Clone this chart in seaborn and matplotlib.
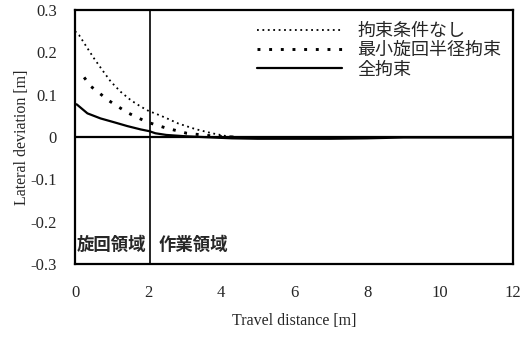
import matplotlib
matplotlib.use("Agg")
import matplotlib.pyplot as plt
import pandas as pd
import seaborn as sns

# series (x in m, y in m)
labels = ["拘束条件なし", "最小旋回半径拘束", "全拘束"]

x_free = [0.0, 0.11, 0.34, 0.52, 0.75, 0.98, 1.25, 1.53, 1.8, 2.03, 2.19, 2.47, 2.83, 3.29, 3.75, 4.1, 4.4]
y_free = [0.25, 0.241, 0.21, 0.186, 0.158, 0.131, 0.107, 0.087, 0.072, 0.061, 0.056, 0.046, 0.032, 0.019, 0.009, 0.003, 0.0]

x_min = [0.25, 0.43, 0.68, 0.91, 1.16, 1.43, 1.69, 1.96, 2.24, 2.51, 2.79, 3.06, 3.38, 3.6, 4.0, 4.4]
y_min = [0.141, 0.12, 0.103, 0.087, 0.073, 0.058, 0.047, 0.036, 0.028, 0.021, 0.015, 0.009, 0.006, 0.004, 0.001, 0.0]

x_all = [0.0, 0.05, 0.34, 0.7, 1.07, 1.43, 1.8, 2.03, 2.2, 2.5, 3.0, 3.5, 4.3, 5.0, 6.0, 7.0, 8.0, 9.0, 12.0]
y_all = [0.078, 0.077, 0.056, 0.044, 0.035, 0.026, 0.018, 0.014, 0.009, 0.005, 0.002, 0.0, -0.003, -0.004, -0.004, -0.004, -0.003, -0.001, -0.001]

yticks = [0.3, 0.2, 0.1, 0, -0.1, -0.2, -0.3]
ytick_labels = ["0.3", "0.2", "0.1", "0", "-0.1", "-0.2", "-0.3"]
xticks = [0, 2, 4, 6, 8, 10, 12]

df = pd.concat([
    pd.DataFrame({"x": x_free, "y": y_free, "case": labels[0]}),
    pd.DataFrame({"x": x_min, "y": y_min, "case": labels[1]}),
    pd.DataFrame({"x": x_all, "y": y_all, "case": labels[2]}),
])

sns.set_style("white")
plt.rcParams['font.family'] = ['Liberation Serif', 'Noto Sans CJK JP']

fig = plt.figure(figsize=(5.22, 3.37), dpi=100)
ax = fig.add_axes([0.1437, 0.2166, 0.8393, 0.7534])

styles = {labels[0]: (1, 2.0), labels[1]: (1, 3.0), labels[2]: ""}
widths = {labels[0]: 1.3, labels[1]: 2.1, labels[2]: 1.6}
for name in labels:
    sub = df[df["case"] == name]
    sns.lineplot(data=sub, x="x", y="y", ax=ax, color="black", lw=widths[name],
                 dashes=False, label=name, legend=False)
    line = ax.get_lines()[-1]
    if styles[name]:
        line.set_dashes(styles[name])

ax.axhline(0, color="black", lw=1.6, zorder=1)
ax.axvline(2.05, color="black", lw=1.2, zorder=1)

ax.set_xlim(0, 12)
ax.set_ylim(-0.3, 0.3)
ax.set_xticks(xticks)
ax.set_yticks(yticks)
ax.set_yticklabels(ytick_labels)
ax.tick_params(axis="both", length=0, labelsize=12)
ax.tick_params(axis="x", pad=15)
ax.tick_params(axis="y", pad=13)
for s in ax.spines.values():
    s.set_color("black")
    s.set_linewidth(1.6)

ax.set_xlabel("Travel distance [m]", fontsize=11.5, labelpad=9)
ax.set_ylabel("Lateral deviation [m]", fontsize=11.5, labelpad=0)

leg = ax.legend(loc="upper right", frameon=False, handlelength=4.7,
                handletextpad=0.85, labelspacing=0.08, borderaxespad=0.25,
                prop={"family": "Noto Sans CJK JP", "size": 13})

# region labels inside the plot
ax.text(0.05, -0.255, "旋回領域", family="Noto Sans CJK JP", fontsize=12.5,
        fontweight="bold", va="center", ha="left")
ax.text(2.3, -0.255, "作業領域", family="Noto Sans CJK JP", fontsize=12.5,
        fontweight="bold", va="center", ha="left")

fig.savefig("out.png", dpi=100)
